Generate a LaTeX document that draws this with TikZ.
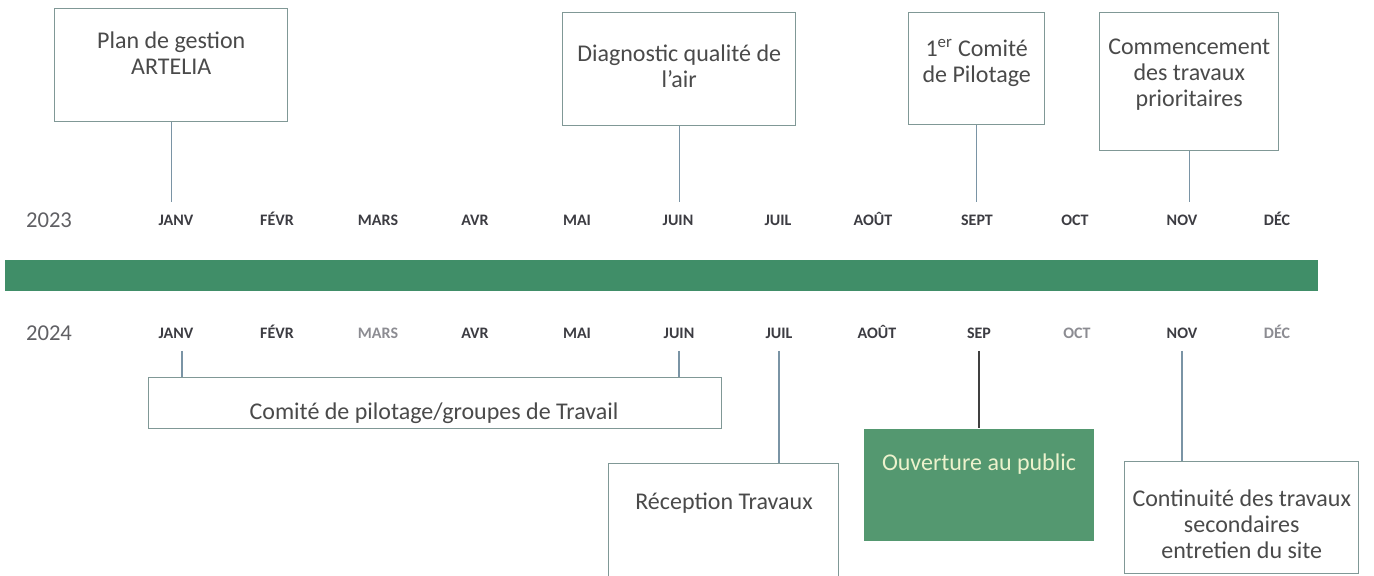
\documentclass[tikz,border=0pt]{standalone}
\usepackage{fontspec}
\setmainfont{Carlito}

\definecolor{boxline}{RGB}{128,152,150}
\definecolor{linkline}{RGB}{122,148,165}
\definecolor{txtgray}{RGB}{74,74,74}
\definecolor{monthdark}{RGB}{60,60,66}
\definecolor{monthlight}{RGB}{140,140,146}
\definecolor{yeargray}{RGB}{96,96,100}
\definecolor{bargreen}{RGB}{64,142,104}
\definecolor{boxgreen}{RGB}{84,152,112}
\definecolor{paletext}{RGB}{236,242,205}

\tikzset{every picture/.style={line width=0.75pt}}
\tikzset{
  evtbox/.style={draw=boxline, line width=1.1pt, fill=white, inner sep=0pt, anchor=north west},
  evttext/.style={text=txtgray, align=center, inner sep=0pt, font=\fontsize{18}{19.5}\selectfont},
  month/.style={font=\fontsize{12}{14}\selectfont\bfseries, inner xsep=0pt, inner ysep=9pt, text height=8pt, text depth=0pt},
  year/.style={text=yeargray, font=\fontsize{17}{19}\selectfont},
  link/.style={draw=linkline, line width=1.1pt},
}

\begin{document}
\begin{tikzpicture}[x=0.75pt,y=0.75pt,yscale=-1,xscale=1]
  \useasboundingbox (0,0) rectangle (1374,575);
  \clip (0,0) rectangle (1374,575);

  %Shape: Rectangle [time bar]
  \fill [bargreen] (5,260) rectangle (1318,291);

  % Text Node [years]
  \node [year] (y2023) at (49,220) {2023};
  \node [year] (y2024) at (49,333) {2024};

  % months 2023
  \foreach \m/\x [count=\i from 0] in {JANV/176,FÉVR/277,MARS/378,AVR/475,MAI/577,JUIN/678,JUIL/778,AOÛT/873,SEPT/977,OCT/1075,NOV/1182,DÉC/1277}
    \node [month, text=monthdark] (a\i) at (\x,220) {\m};
  % months 2024
  \foreach \m/\x/\c [count=\i from 0] in {JANV/176/monthdark,FÉVR/277/monthdark,MARS/378/monthlight,AVR/475/monthdark,MAI/577/monthdark,JUIN/679/monthdark,JUIL/779/monthdark,AOÛT/877/monthdark,SEP/979/monthdark,OCT/1077/monthlight,NOV/1182/monthdark,DÉC/1277/monthlight}
    \node [month, text=\c] (b\i) at (\x,333) {\m};

  %Shape: Rectangle [2023 events]
  \node [evtbox, minimum width=174.75pt, minimum height=84.75pt] (plan) at (54,8) {};
  \node [evtbox, minimum width=174.75pt, minimum height=84.75pt] (diag) at (562,12) {};
  \node [evtbox, minimum width=102pt, minimum height=84pt] (copil1) at (908,12) {};
  \node [evtbox, minimum width=134.25pt, minimum height=103.5pt] (debut) at (1099,12) {};

  % Text Node
  \node [evttext] (planT) at (plan.north |- 0,53) {Plan de gestion\\ARTELIA};
  \node [evttext] (diagT) at (diag.north |- 0,66) {Diagnostic qualité de\\l’air};
  \node [evttext] (copil1T) at (copil1.north |- 0,63) {1\textsuperscript{er} Comité\\de Pilotage};
  \node [evttext] (debutT) at (debut.north |- 0,75) {Commencement\\des travaux\\prioritaires};

  %Straight Lines
  \draw [link] (plan.south) -- (plan.south |- a0.north);
  \draw [link] (diag.south) -- (diag.south |- a5.north);
  \draw [link] (copil1.south) -- (copil1.south |- a8.north);
  \draw [link] (debut.south) -- (debut.south |- a10.north);

  %Shape: Rectangle [2024 events]
  \node [evtbox, minimum width=429.75pt, minimum height=38.25pt] (groupes) at (148,377) {};
  \node [evtbox, minimum width=172.5pt, minimum height=90pt] (recep) at (608,463) {};
  \node [evtbox, draw=none, fill=boxgreen, minimum width=172.5pt, minimum height=84pt] (ouvert) at (863,428) {};
  \node [evtbox, minimum width=175.5pt, minimum height=84pt] (suite) at (1124,461) {};

  % Text Node
  \node [evttext] (groupesT) at (434,413) {Comité de pilotage/groupes de Travail};
  \node [evttext] (recepT) at (724,503) {Réception Travaux};
  \node [evttext, text=paletext] (ouvertT) at (979,464) {Ouverture au public};
  \node [evttext] (suiteT) at (suite.north |- 0,524) {Continuité des travaux\\secondaires\\entretien du site};

  %Straight Lines
  \draw [link] ([xshift=4.5pt]b0.south) -- ([xshift=4.5pt]b0.south |- groupes.north);
  \draw [link] (b5.south) -- (b5.south |- groupes.north);
  \draw [link] (b6.south) -- (b6.south |- recep.north);
  \draw [link, draw=black!75, line width=0.9pt] (b8.south) -- (b8.south |- ouvert.north);
  \draw [link] (b10.south) -- (b10.south |- suite.north);
\end{tikzpicture}
\end{document}
